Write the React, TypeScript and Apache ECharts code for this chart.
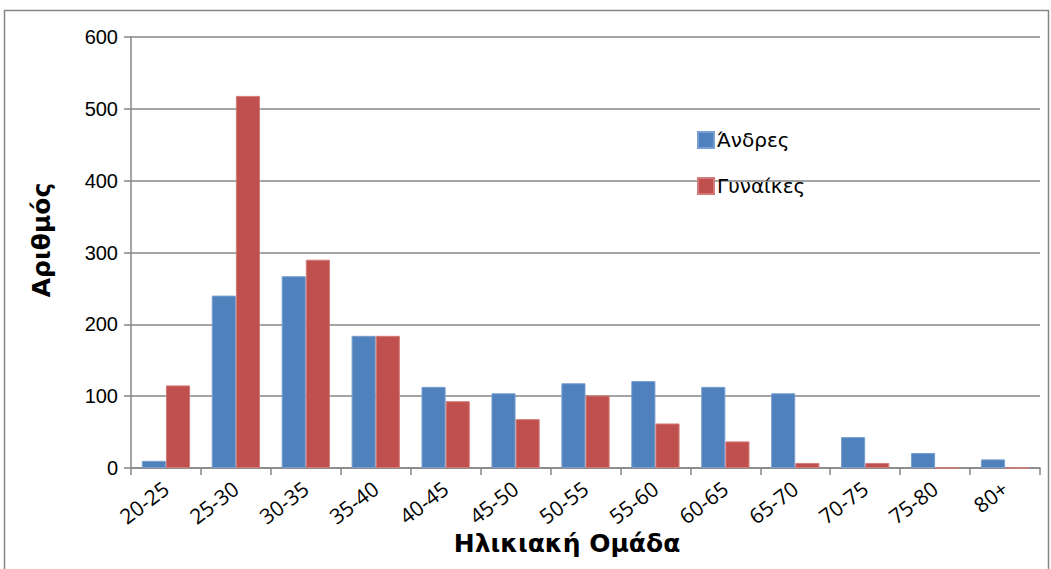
import React, { useEffect, useRef } from "react";
import * as echarts from "echarts";

const categories = ["20-25", "25-30", "30-35", "35-40", "40-45", "45-50", "50-55", "55-60", "60-65", "65-70", "70-75", "75-80", "80+"];
const men = [10, 240, 267, 184, 113, 104, 118, 121, 113, 104, 43, 21, 12];
const women = [115, 518, 290, 184, 93, 68, 101, 62, 37, 7, 7, 0, 0];
const yTicks = { min: 0, max: 600, interval: 100 };
const seriesNames = ["Άνδρες", "Γυναίκες"];
const xTitle = "Ηλικιακή Ομάδα";
const yTitle = "Αριθμός";

export default function App() {
  const ref = useRef<HTMLDivElement>(null);
  useEffect(() => {
    if (!ref.current) return;
    const chart = echarts.init(ref.current, null, { renderer: "svg" });
    const font = "'Liberation Sans', Arial, sans-serif";
    const greek = "'DejaVu Sans', sans-serif";
    chart.setOption({
      animation: false,
      backgroundColor: "#ffffff",
      textStyle: { fontFamily: font },
      grid: { left: 131, right: 11, top: 37, bottom: 101 },
      legend: {
        orient: "vertical",
        left: 692,
        top: 125,
        itemWidth: 16,
        itemHeight: 16,
        itemGap: 26,
        icon: "rect",
        textStyle: { fontSize: 20, color: "#000", fontFamily: greek, padding: [0, 0, 0, -2] },
        data: seriesNames,
      },
      xAxis: {
        type: "category",
        data: categories,
        axisLine: { lineStyle: { color: "#868686", width: 1.5 } },
        axisTick: { show: true, length: 7, lineStyle: { color: "#868686", width: 1.5 } },
        axisLabel: { rotate: 37, fontSize: 21, color: "#000", margin: 18, fontFamily: "'Open Sans', sans-serif" },
      },
      yAxis: {
        type: "value",
        min: yTicks.min,
        max: yTicks.max,
        interval: yTicks.interval,
        axisLine: { show: true, lineStyle: { color: "#868686", width: 1.5 } },
        axisTick: { show: true, length: 7, lineStyle: { color: "#868686", width: 1.5 } },
        axisLabel: { fontSize: 20, color: "#000", margin: 13, fontFamily: font },
        splitLine: { lineStyle: { color: "#868686", width: 1.5 } },
      },
      series: [
        {
          name: seriesNames[0],
          type: "bar",
          data: men,
          barGap: "0%",
          barCategoryGap: "31%",
          itemStyle: { color: "#4F81BD", borderColor: "#7A9FD0", borderWidth: 1 },
        },
        {
          name: seriesNames[1],
          type: "bar",
          data: women,
          barGap: "0%",
          barCategoryGap: "31%",
          itemStyle: { color: "#C0504D", borderColor: "#D37B78", borderWidth: 1 },
        },
      ],
      graphic: [
        {
          type: "rect",
          shape: { x: 4.5, y: 10.5, width: 1044, height: 570 },
          style: { fill: "none", stroke: "#868686", lineWidth: 1.5 },
          silent: true,
        },
        {
          type: "text",
          x: 567,
          y: 543,
          style: {
            text: xTitle,
            font: "bold 25px " + greek,
            fill: "#000",
            align: "center",
            verticalAlign: "middle",
          },
        },
        {
          type: "text",
          x: 41,
          y: 240,
          rotation: Math.PI / 2,
          style: {
            text: yTitle,
            font: "bold 25px " + greek,
            fill: "#000",
            align: "center",
            verticalAlign: "middle",
          },
        },
      ],
    });
    return () => chart.dispose();
  }, []);
  return <div ref={ref} style={{ position: "absolute", left: 0, top: 0, width: 1051, height: 569 }} />;
}
